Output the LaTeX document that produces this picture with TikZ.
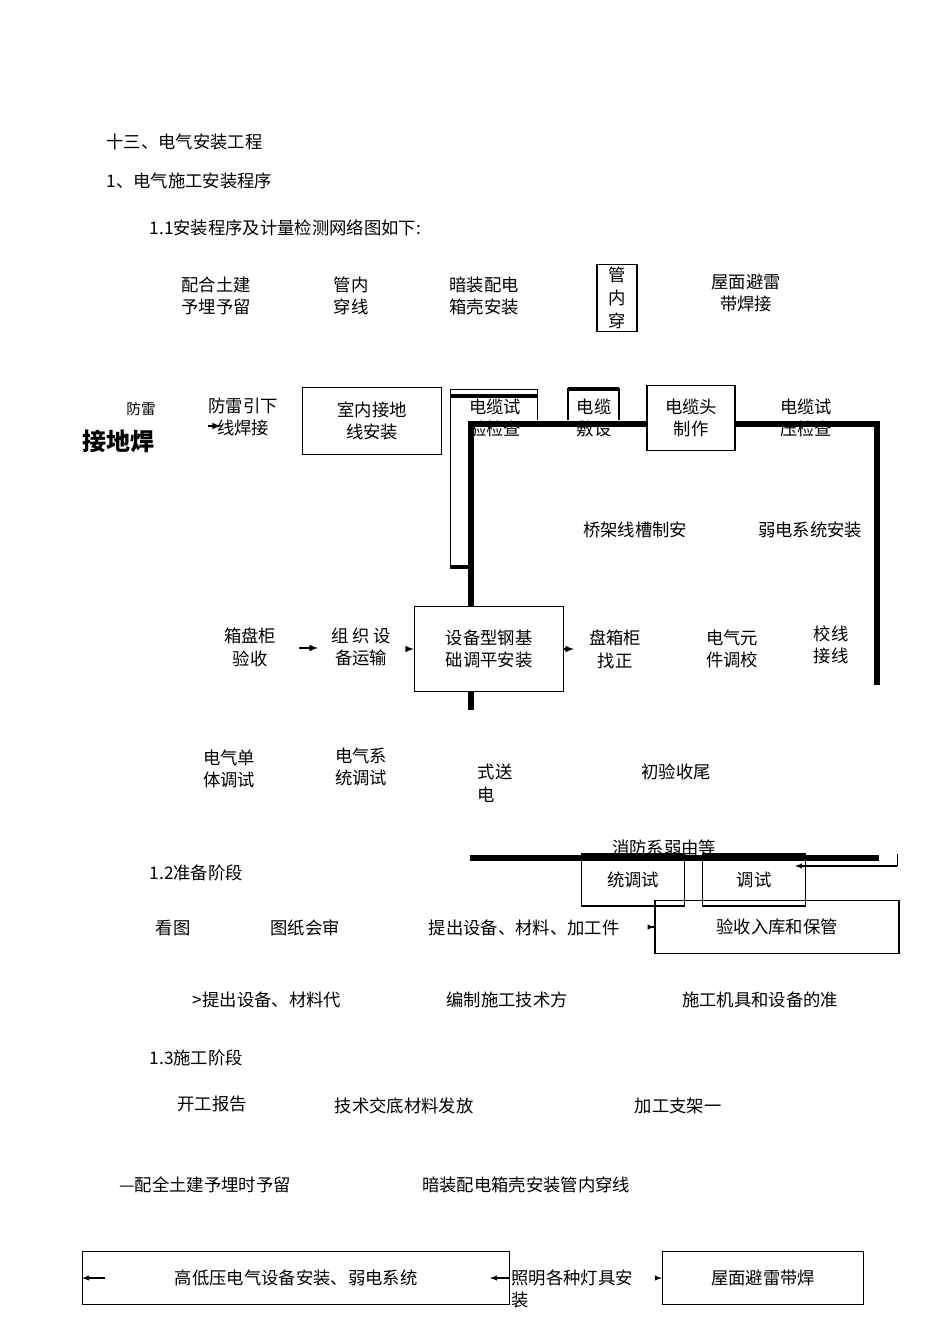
\documentclass[tikz,border=0pt]{standalone}
\usepackage{fontspec}
\setmainfont{Noto Sans CJK SC}
\begin{document}
\begin{tikzpicture}[x=0.75pt,y=-0.75pt,
  t/.style={font=\fontsize{13}{17}\selectfont,align=center,inner sep=1pt},
  b/.style={t,draw,line width=0.8pt,inner sep=4pt},
  ar/.style={-latex,line width=1.2pt},
  thick line/.style={line width=5pt}]
\useasboundingbox (0,0) rectangle (950,1344);
\node[t,anchor=west] (h1) at (105,142) {十三、电气安装工程};
\node[t,anchor=west] (h2) at (105,181) {1、电气施工安装程序};
\node[t,anchor=west] (h3) at (148,228) {1.1安装程序及计量检测网络图如下:};
\node[t] (a1) at (216,296) {配合土建\\予埋予留};
\node[t] (a2) at (351,296) {管内\\穿线};
\node[t] (a3) at (484,296) {暗装配电\\箱壳安装};
\node[t,draw,line width=0.8pt,text width=26pt,inner sep=2pt] (a4) at (617,298) {管\\内\\穿};
\node[t] (a5) at (746,293) {屋面避雷\\带焊接};
% row 2
\node[t,font=\fontsize{11}{13}\selectfont] (f1) at (141,409) {防雷};
\node[t,font=\fontsize{18}{20}\selectfont\bfseries] (f2) at (118,441) {接地焊};
\node[t] (b1) at (243,417) {防雷引下\\线焊接};
\node[b,minimum width=104pt*0.75/0.75,minimum height=50pt] (b2) at (372,421) {室内接地\\线安装};
\draw (450,568) -- (450,389) -- (537,389) -- (537,420);
\draw[line width=2.5pt] (450,396) -- (537,396);
\draw[line width=2.5pt] (450,567) -- (471,567);
\node[t] (b3) at (495,418) {电缆试\\验检查};
\draw[line width=0.8pt] (568,420) -- (568,389) -- (619,389) -- (619,420);
\draw[line width=2.5pt] (568,389) -- (619,389);
\node[t] (b4) at (594,418) {电缆\\敷设};
\node[b,minimum width=66pt,minimum height=49pt] (b5) at (691,418) {电缆头\\制作};
\node[t] (b6) at (806,418) {电缆试\\压检查};
\draw[thick line] (471,710) -- (471,424) -- (877,424) -- (877,685);
\node[fill=white,draw,line width=0.8pt,minimum width=66pt,minimum height=49pt] at (691,418) {};
\node[t] at (691,418) {电缆头\\制作};
\node[t] (c1) at (635,530) {桥架线槽制安};
\node[t] (c2) at (810,530) {弱电系统安装};
% row 3
\node[t] (d1) at (250,647) {箱盘柜\\验收};
\node[t] (d2) at (361,647) {组 织 设\\备运输};
\node[b,fill=white,minimum width=112pt,minimum height=64pt] (d3) at (489,649) {设备型钢基\\础调平安装};
\node[t] (d4) at (615,649) {盘箱柜\\找正};
\node[t] (d5) at (732,649) {电气元\\件调校};
\node[t] (d6) at (831,645) {校线\\接线};
\draw[ar] (85+214,648) -- (318,648);
\draw[ar] (408,649) -- (d3.west);
\draw[ar] (d3.east) -- (574,649);
\draw[ar] (208,426) -- (221,426);
% row 4
\node[t] (e1) at (229,769) {电气单\\体调试};
\node[t] (e2) at (361,767) {电气系\\统调试};
\node[t,align=left] (e3) at (495,783) {式送\\电};
\node[t] (e4) at (676,772) {初验收尾};
\node[t] (g0) at (664,848) {消防系弱由等};
\draw[thick line] (470,858) -- (879,858);
\node[b,minimum width=77pt,minimum height=39pt] (g1) at (633,880) {统调试};
\node[b,minimum width=77pt,minimum height=39pt] (g2) at (754,880) {调试};
\draw (897,854) -- (897,866);
\draw[ar,line width=0.8pt] (897,866) -- (795,866);
% 1.2
\node[t,anchor=west] (s2) at (148,873) {1.2准备阶段};
\node[t] (p1) at (173,928) {看图};
\node[t] (p2) at (305,928) {图纸会审};
\node[t] (p3) at (524,928) {提出设备、材料、加工件};
\node[b,minimum width=183pt,minimum height=40pt] (p4) at (777,927) {验收入库和保管};
\draw[ar,line width=0.8pt] (654,927) -- (p4.west);
\node[t] (q1) at (267,1000) {>提出设备、材料代};
\node[t] (q2) at (507,1000) {编制施工技术方};
\node[t] (q3) at (760,1000) {施工机具和设备的准};
% 1.3
\node[t,anchor=west] (s3) at (148,1058) {1.3施工阶段};
\node[t] (r1) at (212,1104) {开工报告};
\node[t] (r2) at (404,1106) {技术交底材料发放};
\node[t] (r3) at (678,1106) {加工支架一};
\node[t] (r4) at (205,1185) {—配全土建予埋时予留};
\node[t] (r5) at (526,1185) {暗装配电箱壳安装管内穿线};
\node[b,minimum width=320pt,minimum height=40pt] (u1) at (296,1278) {高低压电气设备安装、弱电系统};
\node[t,align=left] (u2) at (572,1289) {照明各种灯具安\\装};
\node[b,minimum width=151pt,minimum height=40pt] (u3) at (763,1278) {屋面避雷带焊};
\coordinate (u0) at (105,1278);
\draw[ar,line width=0.8pt] (u0) -- (u1.west);
\draw[ar,line width=0.8pt] (u1.east) -- (490,1278);
\draw[ar,line width=0.8pt] (655,1278) -- (u3.west);
\end{tikzpicture}
\end{document}
